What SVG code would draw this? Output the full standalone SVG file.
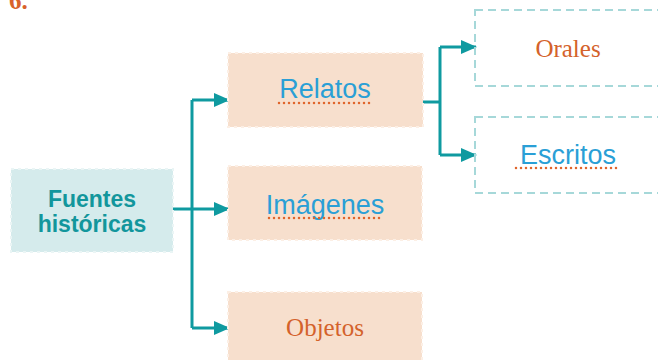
<svg xmlns="http://www.w3.org/2000/svg" width="658" height="360" viewBox="0 0 658 360">
<style>
.peach{fill:#f7dfcd;stroke:#fcefe5;stroke-width:2;stroke-dasharray:3 4}
.teal{fill:#d5ebec;stroke:#eaf5f5;stroke-width:2;stroke-dasharray:3 4}
.dash{fill:none;stroke:#a6d8d9;stroke-width:2;stroke-dasharray:8 5}
.hand{font-family:"Liberation Sans",sans-serif;font-size:27px;fill:#2a9fd6;text-anchor:middle}
.ser{font-family:"Liberation Serif",serif;font-size:25px;fill:#d4622b;text-anchor:middle}
.ul{stroke:#e0652b;stroke-width:2.5;stroke-dasharray:0 5;stroke-linecap:round;fill:none}
.con{fill:none;stroke:#0f9aa0;stroke-width:3}
</style>
<defs>
<marker id="ah" markerWidth="16" markerHeight="16" refX="15" refY="8" orient="auto" markerUnits="userSpaceOnUse">
<path d="M0,1 L16,8 L0,15 Z" fill="#0f9aa0"/>
</marker>
</defs>
<text x="9" y="9" font-family="Liberation Serif,serif" font-weight="bold" font-size="25" fill="#d8622a">6.</text>
<g id="connectors">
<path class="con" d="M173,209 H192"/>
<path class="con" d="M192,100 V328"/>
<path class="con" d="M192,100 H229" marker-end="url(#ah)"/>
<path class="con" d="M192,209 H229" marker-end="url(#ah)"/>
<path class="con" d="M192,328 H229" marker-end="url(#ah)"/>
<path class="con" d="M423,102 H440"/>
<path class="con" d="M440,47 V155"/>
<path class="con" d="M440,47 H476" marker-end="url(#ah)"/>
<path class="con" d="M440,155 H476" marker-end="url(#ah)"/>
</g>
<g id="fuentes">
<rect class="teal" x="11" y="169" width="162" height="83"/>
<text font-family="Liberation Sans,sans-serif" font-weight="bold" font-size="23" fill="#12969c" text-anchor="middle"><tspan x="92" y="207">Fuentes</tspan><tspan x="92" y="232">históricas</tspan></text>
</g>
<g id="relatos">
<rect class="peach" x="228" y="53" width="195" height="74"/>
<text class="hand" x="325" y="98">Relatos</text>
<line class="ul" x1="279" y1="103" x2="373" y2="103"/>
</g>
<g id="imagenes">
<rect class="peach" x="228" y="166" width="194" height="74"/>
<text class="hand" x="325" y="214">Imágenes</text>
<line class="ul" x1="269" y1="218" x2="381" y2="218"/>
</g>
<g id="objetos">
<rect class="peach" x="228" y="292" width="194" height="80"/>
<text class="ser" x="325" y="336">Objetos</text>
</g>
<g id="orales">
<rect class="dash" x="475" y="10" width="200" height="76"/>
<text class="ser" x="568" y="57">Orales</text>
</g>
<g id="escritos">
<rect class="dash" x="475" y="117" width="200" height="76"/>
<text class="hand" x="568" y="164">Escritos</text>
<line class="ul" x1="516" y1="168" x2="621" y2="168"/>
</g>
</svg>
